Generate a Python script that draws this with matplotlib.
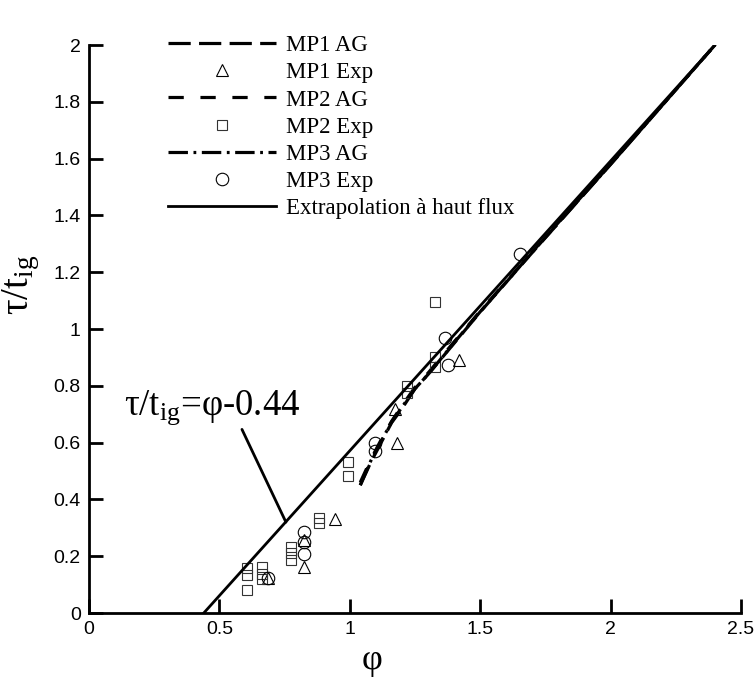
import matplotlib
matplotlib.use("Agg")
import matplotlib.pyplot as plt
from matplotlib.ticker import FormatStrFormatter, MultipleLocator

plt.rcParams['font.family'] = ['Liberation Serif', 'DejaVu Serif']
plt.rcParams['mathtext.fontset'] = 'custom'
plt.rcParams['mathtext.rm'] = 'Liberation Serif'
plt.rcParams['mathtext.it'] = 'Liberation Serif:italic'
plt.rcParams['lines.scale_dashes'] = False

# model curves (AG)
ag_phi = [1.04, 1.08, 1.12, 1.16, 1.2, 1.25, 1.3, 1.4, 1.5, 1.6, 1.7, 1.85, 2.0, 2.2, 2.40]
mp1_ag = [0.45, 0.53, 0.60, 0.67, 0.72, 0.79, 0.84, 0.95, 1.06, 1.165, 1.27, 1.425, 1.58, 1.79, 2.0]
mp2_ag = [0.46, 0.54, 0.61, 0.675, 0.73, 0.795, 0.845, 0.955, 1.063, 1.167, 1.272, 1.427, 1.58, 1.79, 2.0]
mp3_ag = [0.45, 0.535, 0.605, 0.672, 0.725, 0.79, 0.84, 0.952, 1.061, 1.166, 1.271, 1.426, 1.58, 1.79, 2.0]

# experimental points
mp1_x = [0.688, 0.824, 0.824, 0.943, 1.18, 1.173, 1.42]
mp1_y = [0.125, 0.257, 0.163, 0.33, 0.597, 0.72, 0.89]

mp2_x = [0.607, 0.607, 0.607, 0.665, 0.665, 0.665, 0.773, 0.773, 0.773,
         0.883, 0.883, 0.994, 0.994, 1.218, 1.218, 1.327, 1.327, 1.327]
mp2_y = [0.081, 0.134, 0.157, 0.119, 0.137, 0.161, 0.187, 0.21, 0.233,
         0.316, 0.336, 0.481, 0.533, 0.775, 0.80, 0.867, 0.902, 1.096]

mp3_x = [0.688, 0.824, 0.824, 0.824, 1.097, 1.097, 1.365, 1.378, 1.652]
mp3_y = [0.122, 0.286, 0.251, 0.208, 0.60, 0.57, 0.97, 0.873, 1.264]

# high flux extrapolation tau/t_ig = phi - 0.44
ext_phi = [0.44, 2.40]
ext_tau = [0.0, 2.0]

fig = plt.figure(figsize=(7.55, 6.8), dpi=100)
ax = fig.add_axes([0.1179, 0.0985, 0.8636, 0.8353])

ax.plot(ag_phi, mp1_ag, color='k', lw=2.3, dashes=(16, 6), label='MP1 AG')
ax.plot(mp1_x, mp1_y, ls='none', marker='^', ms=8, mfc='none', mec='k', mew=0.8, label='MP1 Exp')
ax.plot(ag_phi, mp2_ag, color='k', lw=2.3, dashes=(11, 12), label='MP2 AG')
ax.plot(mp2_x, mp2_y, ls='none', marker='s', ms=6.5, mfc='none', mec='#333333', mew=0.8, label='MP2 Exp')
ax.plot(ag_phi, mp3_ag, color='k', lw=2.3, dashes=(14, 4, 2, 4), label='MP3 AG')
ax.plot(mp3_x, mp3_y, ls='none', marker='o', ms=9, mfc='none', mec='k', mew=0.8, label='MP3 Exp')
ax.plot(ext_phi, ext_tau, color='k', lw=2.0, label='Extrapolation à haut flux')

ax.annotate('$\\mathregular{τ/t_{ig}}$=φ-0.44', xy=(0.755, 0.32), xytext=(0.135, 0.70),
            fontsize=26.5, va='baseline', ha='left',
            arrowprops=dict(arrowstyle='-', lw=2.0, color='k', relpos=(0.66, 0.0),
                            shrinkA=0, shrinkB=0))

ax.set_xlim(0, 2.5)
ax.set_ylim(0, 2)
ax.xaxis.set_major_locator(MultipleLocator(0.5))
ax.yaxis.set_major_locator(MultipleLocator(0.2))
ax.xaxis.set_major_formatter(FormatStrFormatter('%g'))
ax.yaxis.set_major_formatter(FormatStrFormatter('%g'))
ax.spines['top'].set_visible(False)
ax.spines['right'].set_visible(False)
ax.spines['left'].set_linewidth(2)
ax.spines['bottom'].set_linewidth(2)
ax.tick_params(direction='in', length=10, width=2, labelsize=14, pad=6)
for lab in ax.get_xticklabels() + ax.get_yticklabels():
    lab.set_family(['Liberation Sans', 'DejaVu Sans'])

ax.set_xlabel('φ', fontsize=26)
ax.xaxis.set_label_coords(0.434, -0.055)
ax.set_ylabel('$\\mathregular{τ/t_{ig}}$', fontsize=28)
ax.yaxis.set_label_coords(-0.072, 0.577)

ax.legend(loc='upper left', bbox_to_anchor=(168 / 755, 1 - 35 / 680), bbox_transform=fig.transFigure,
          frameon=False, fontsize=16.5, handlelength=4.7, handletextpad=0.45, labelspacing=0.27,
          borderpad=0, borderaxespad=0)

fig.savefig('out.png', dpi=100)
